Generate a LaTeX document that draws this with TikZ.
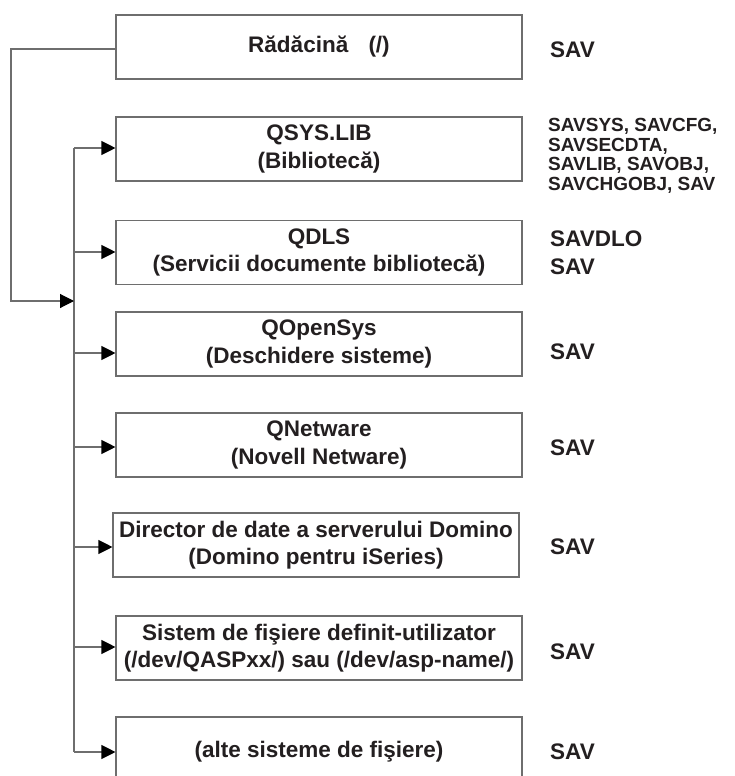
\documentclass[tikz,border=0pt]{standalone}
\usepackage{fontspec}
\setmainfont{Liberation Sans}
\usetikzlibrary{arrows.meta}
\definecolor{ink}{RGB}{35,31,32}
\definecolor{edge}{RGB}{110,110,110}
\tikzset{
  fsbox/.style={draw=edge, line width=1.1pt, minimum width=406pt, minimum height=64pt,
    inner sep=0pt, align=center, text=ink, font=\fontsize{22.5}{27.5}\selectfont\bfseries},
  savlbl/.style={anchor=west, inner sep=0pt, text=ink, align=left,
    font=\fontsize{22.5}{28}\selectfont\bfseries},
  smalllbl/.style={anchor=west, inner sep=0pt, text=ink, align=left,
    font=\fontsize{19}{19.5}\selectfont\bfseries},
  wire/.style={draw=edge, line width=1.1pt},
  arr/.style={wire, -{Triangle[length=14pt,width=14pt,color=black]}}
}
\begin{document}
\begin{tikzpicture}[x=1pt,y=-1pt]
\clip (0,0) rectangle (734,776);
\fill[white] (0,0) rectangle (734,776);

% boxes
\node[fsbox] (root) at (319,47) {R\u{a}d\u{a}cin\u{a}\hspace{0.9em}(/)};
\node[fsbox] (qsys) at (319,149) {QSYS.LIB\\(Bibliotec\u{a})};
\node[fsbox] (qdls) at (319,252.5) {QDLS\\(Servicii documente bibliotec\u{a})};
\node[fsbox] (qopen) at (319,344) {QOpenSys\\(Deschidere sisteme)};
\node[fsbox] (qnet) at (319,445) {QNetware\\(Novell Netware)};
\node[fsbox] (domino) at (316,545) {Director de date a serverului Domino\\(Domino pentru iSeries)};
\node[fsbox] (udfs) at (319,648) {Sistem de fi\c{s}iere definit-utilizator\\(/dev/QASPxx/) sau (/dev/asp-name/)};
\node[fsbox, minimum height=70pt] (other) at (319,752) {(alte sisteme de fi\c{s}iere)};

% labels
\node[savlbl] (l0) at (550,50) {SAV};
\node[smalllbl] (l1) at (548,156) {SAVSYS, SAVCFG,\\SAVSECDTA,\\SAVLIB, SAVOBJ,\\SAVCHGOBJ, SAV};
\node[savlbl] (l2) at (550,253) {SAVDLO\\SAV};
\node[savlbl] (l3) at (550,352) {SAV};
\node[savlbl] (l4) at (550,448) {SAV};
\node[savlbl] (l5) at (550,547) {SAV};
\node[savlbl] (l6) at (550,652) {SAV};
\node[savlbl] (l7) at (550,752) {SAV};

% trunk coordinates
\coordinate (t1) at (74,148);
\coordinate (t2) at (74,252);
\coordinate (tr) at (74,301);
\coordinate (t3) at (74,353);
\coordinate (t4) at (74,447);
\coordinate (t5) at (74,547);
\coordinate (t6) at (74,647);
\coordinate (t7) at (74,752);
\coordinate (outer) at (11,49);

% trunk
\draw[wire] (t1) -- (t7);
% outer branch from root
\draw[arr] (root.west |- outer) -- (outer) |- (tr);

% arrows to boxes
\draw[arr] (t1) -- (t1 -| qsys.west);
\draw[arr] (t2) -- (t2 -| qdls.west);
\draw[arr] (t3) -- (t3 -| qopen.west);
\draw[arr] (t4) -- (t4 -| qnet.west);
\draw[arr] (t5) -- (t5 -| domino.west);
\draw[arr] (t6) -- (t6 -| udfs.west);
\draw[arr] (t7) -- (t7 -| other.west);
\end{tikzpicture}
\end{document}
